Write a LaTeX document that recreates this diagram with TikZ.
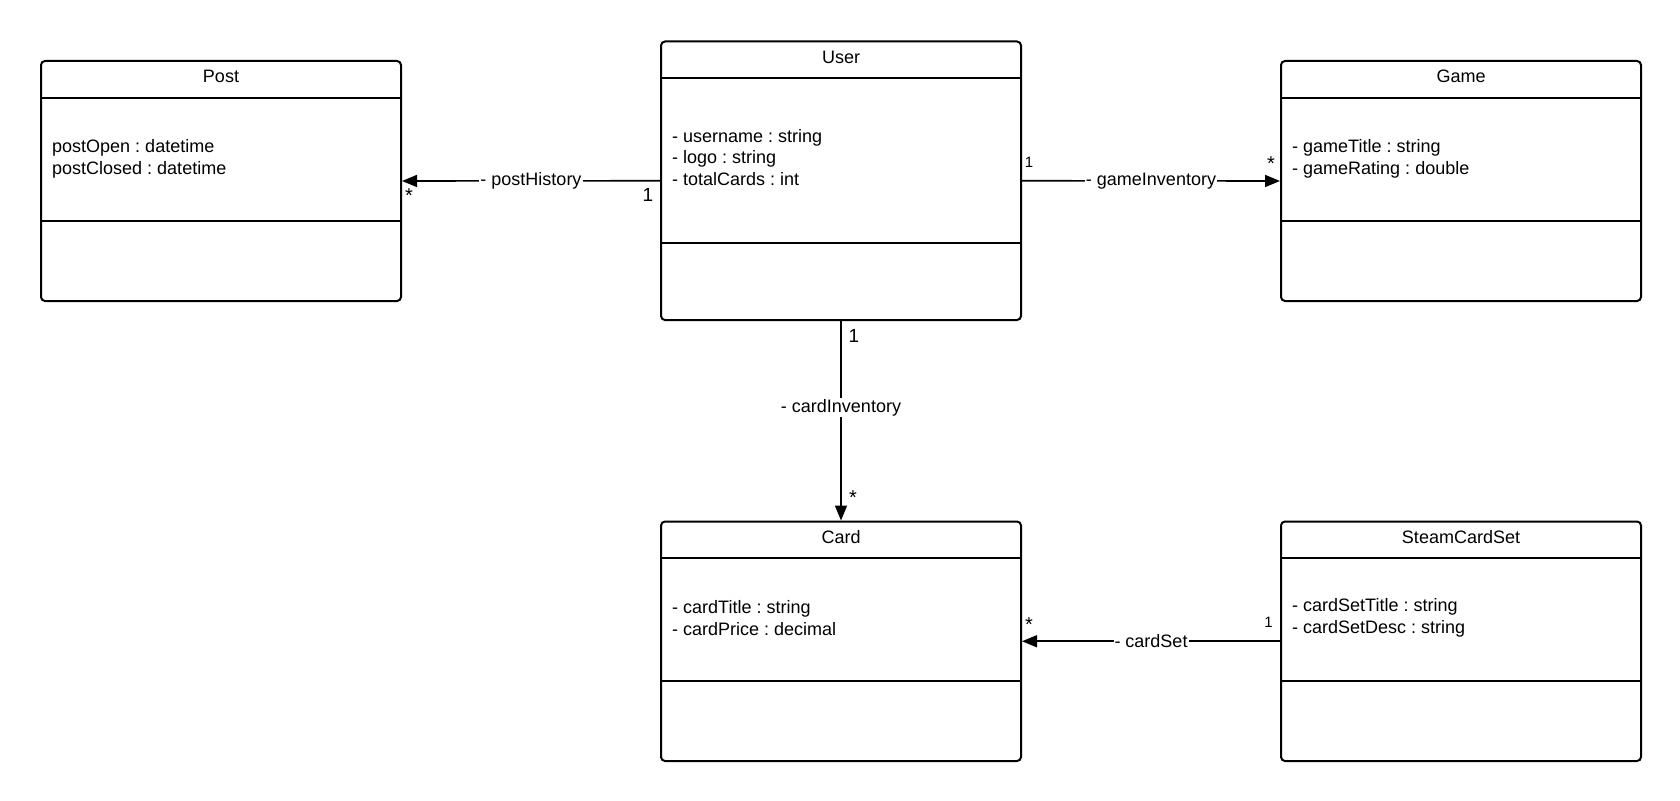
\documentclass[tikz,border=0pt]{standalone}
\usepackage{fontspec}
\setmainfont{Liberation Sans}
\usetikzlibrary{arrows.meta}
\frenchspacing
\tikzset{
  umlbox/.style={draw=black, line width=2pt, rounded corners=4pt, fill=white, minimum width=360pt, inner sep=0pt, anchor=north west},
  sepline/.style={draw=black, line width=2pt},
  classtitle/.style={inner sep=0pt, font=\fontsize{18pt}{21.4pt}\selectfont},
  attrs/.style={inner sep=0pt, align=left, anchor=west, font=\fontsize{18pt}{21.4pt}\selectfont},
  assoc/.style={draw=black, line width=1.6pt, -{Triangle[length=15pt,width=12pt]}},
  elabel/.style={fill=white, inner sep=1pt, font=\fontsize{18pt}{21.4pt}\selectfont},
  multsmall/.style={inner sep=0pt, font=\fontsize{15pt}{18pt}\selectfont},
  multstar/.style={inner sep=0pt, font=\fontsize{20pt}{22pt}\selectfont},
  multbig/.style={inner sep=0pt, font=\fontsize{19pt}{22pt}\selectfont},
}
\begin{document}
\begin{tikzpicture}[x=1pt,y=-1pt]
\useasboundingbox (0,0) rectangle (1680,800);
\fill[white] (0,0) rectangle (1680,800);

% Post
\node[umlbox, minimum height=240pt] (post) at (40,60) {};
\draw[sepline] ([yshift=-37.5pt]post.north west) -- ([yshift=-37.5pt]post.north east);
\draw[sepline] ([yshift=-160.7pt]post.north west) -- ([yshift=-160.7pt]post.north east);
\node[classtitle] (posttitle) at ([yshift=-16pt]post.north) {Post};
\node[attrs] (postattr) at ([xshift=12pt,yshift=-99pt]post.north west) {postOpen : datetime\\postClosed : datetime};

% User
\node[umlbox, minimum height=278.5pt] (user) at (660,40.5) {};
\draw[sepline] ([yshift=-37.5pt]user.north west) -- ([yshift=-37.5pt]user.north east);
\draw[sepline] ([yshift=-202.5pt]user.north west) -- ([yshift=-202.5pt]user.north east);
\node[classtitle] (usertitle) at ([yshift=-16.5pt]user.north) {User};
\node[attrs] (userattr) at ([xshift=12pt,yshift=-117pt]user.north west) {- username : string\\- logo : string\\- totalCards : int};

% Game
\node[umlbox, minimum height=240pt] (game) at (1280,60) {};
\draw[sepline] ([yshift=-37.5pt]game.north west) -- ([yshift=-37.5pt]game.north east);
\draw[sepline] ([yshift=-160.7pt]game.north west) -- ([yshift=-160.7pt]game.north east);
\node[classtitle] (gametitle) at ([yshift=-16pt]game.north) {Game};
\node[attrs] (gameattr) at ([xshift=12pt,yshift=-99pt]game.north west) {- gameTitle : string\\- gameRating : double};

% Card
\node[umlbox, minimum height=239.5pt] (card) at (660,520.5) {};
\draw[sepline] ([yshift=-37.5pt]card.north west) -- ([yshift=-37.5pt]card.north east);
\draw[sepline] ([yshift=-160.5pt]card.north west) -- ([yshift=-160.5pt]card.north east);
\node[classtitle] (cardtitle) at ([yshift=-16.5pt]card.north) {Card};
\node[attrs] (cardattr) at ([xshift=12pt,yshift=-97.5pt]card.north west) {- cardTitle : string\\- cardPrice : decimal};

% SteamCardSet
\node[umlbox, minimum height=239.5pt] (steam) at (1280,520.5) {};
\draw[sepline] ([yshift=-37.5pt]steam.north west) -- ([yshift=-37.5pt]steam.north east);
\draw[sepline] ([yshift=-160.5pt]steam.north west) -- ([yshift=-160.5pt]steam.north east);
\node[classtitle] (steamtitle) at ([yshift=-16.5pt]steam.north) {SteamCardSet};
\node[attrs] (steamattr) at ([xshift=12pt,yshift=-97.5pt]steam.north west) {- cardSetTitle : string\\- cardSetDesc : string};

% Associations
\draw[assoc] (user.west) -- node[elabel] {- postHistory} (post.east);
\draw[assoc] (user.east) -- node[elabel] {- gameInventory} (game.west);
\draw[assoc] (user.south) -- node[elabel, pos=0.435] {- cardInventory} (card.north);
\draw[assoc] (steam.west) -- node[elabel] {- cardSet} (card.east);

% Multiplicities
\node[multstar] (m1) at (409,196) {*};
\node[multbig] (m2) at (648,195) {1};
\node[multsmall] (m3) at (1029,162.5) {1};
\node[multstar] (m4) at (1271,164) {*};
\node[multbig] (m5) at (854,336) {1};
\node[multstar] (m6) at (853,498) {*};
\node[multstar] (m7) at (1029,625) {*};
\node[multsmall] (m8) at (1268.5,622.5) {1};
\end{tikzpicture}
\end{document}
